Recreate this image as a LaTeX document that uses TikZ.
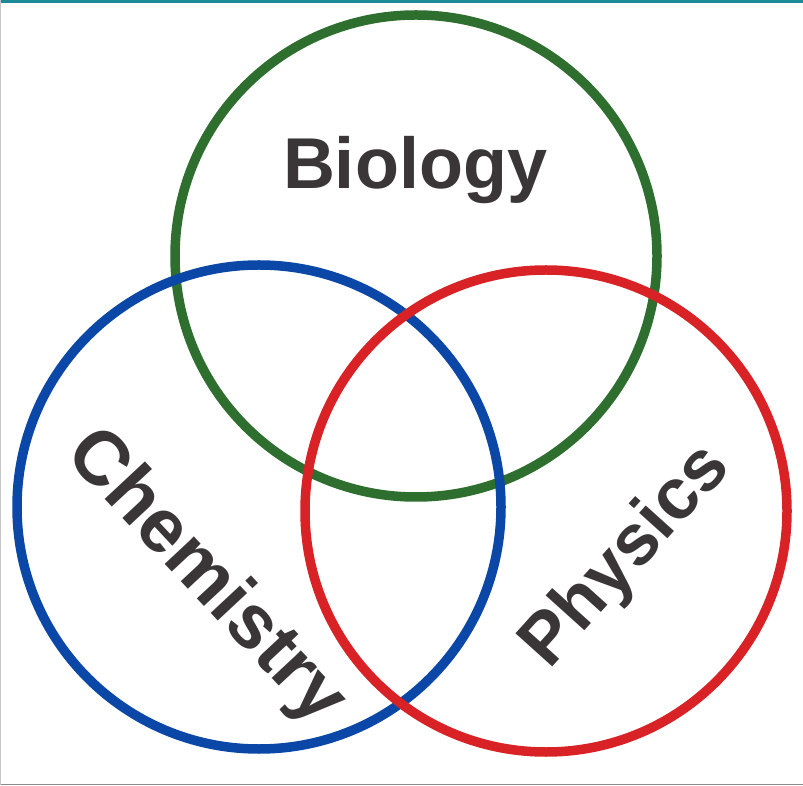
\documentclass[tikz,border=0pt]{standalone}
\usepackage{fontspec}
\setmainfont{Liberation Sans}
\definecolor{cgreen}{HTML}{2E6F2F}
\definecolor{cblue}{HTML}{0B47A6}
\definecolor{cred}{HTML}{D92226}
\definecolor{ctext}{HTML}{3A3637}
\definecolor{cteal}{HTML}{1D8A98}
\definecolor{cgray}{HTML}{8A8A8A}
\begin{document}
\begin{tikzpicture}[x=1pt,y=1pt,
  ring/.style={line width=9.5pt},
  word/.style={text=ctext,font=\fontsize{72}{72}\selectfont\bfseries,inner sep=0pt}]
\useasboundingbox (0,0) rectangle (803,785);
\fill[white] (0,0) rectangle (803,785);
\fill[cteal] (0,782) rectangle (803,785);
\fill[cgray] (0,0) rectangle (803,1.5);
\fill[cgray!50] (0,0) rectangle (1.2,785);
% circles (image coords: y -> 785-y)
\coordinate (gc) at (416,529);
\coordinate (bc) at (259,278);
\coordinate (rc) at (546,274);
\draw[ring,cgreen] (gc) circle[radius=241];
\draw[ring,cblue] (bc) circle[radius=242];
\draw[ring,cred] (rc) circle[radius=241];
\node[word] (bio) at (415,615) {Biology};
\node[word,font=\fontsize{76}{76}\selectfont\bfseries,rotate=-47] (chem) at (205,207) {Chemistry};
\node[word,rotate=48] (phys) at (627,228) {Physics};
\end{tikzpicture}
\end{document}
